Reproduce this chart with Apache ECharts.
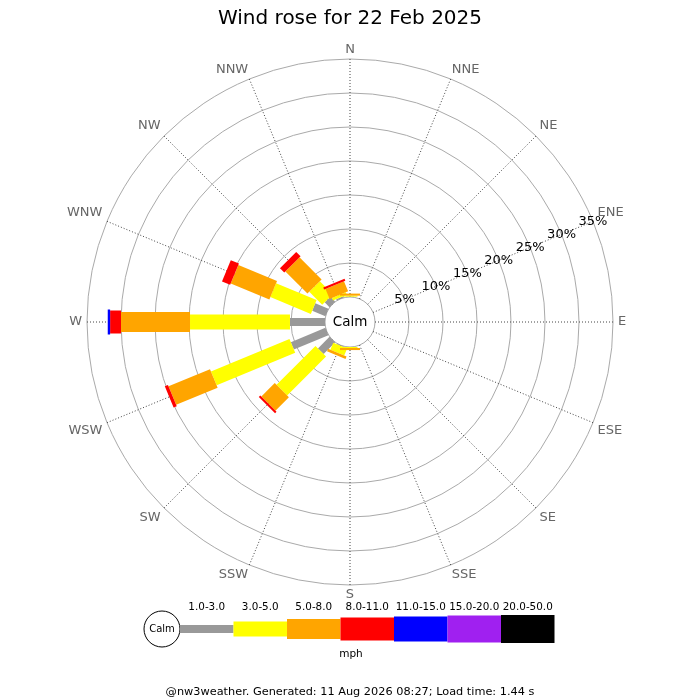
<!DOCTYPE html>
<html>
<head>
<meta charset="utf-8">
<script src="https://cdn.jsdelivr.net/npm/echarts@6/dist/echarts.min.js"></script>
<style>
html,body{margin:0;padding:0;background:#fff;}
#chart{width:700px;height:700px;}
</style>
</head>
<body>
<div id="chart"></div>
<script>
// ---- data ----
const directions = ['N','NNE','NE','ENE','E','ESE','SE','SSE','S','SSW','SW','WSW','W','WNW','NW','NNW'];
const speedClasses = ['1.0-3.0','3.0-5.0','5.0-8.0','8.0-11.0','11.0-15.0','15.0-20.0','20.0-50.0'];
const radiusTicks = [0,5,10,15,20,25,30,35];
// percentage of time per direction for each speed class
const pct_1_3   = [0.05,0,0,0,0,0,0,0,0,   0.1, 2.4, 5.5, 5.15, 2.1, 1.0, 0.2];
const pct_3_5   = [0.15,0,0,0,0,0,0,0,0.15,1.1, 8.1, 12.5,14.7, 6.45,2.7, 0.4];
const pct_5_8   = [0.3, 0,0,0,0,0,0,0,0.3, 0.4, 2.8, 6.6, 10.15,6.15,4.6, 1.6];
const pct_8_11  = [0,   0,0,0,0,0,0,0,0,   0,   0.3, 0.5, 1.6,  1.3, 0.9, 0.3];
const pct_11_15 = [0,   0,0,0,0,0,0,0,0,   0,   0,   0,   0.35, 0,   0,   0];
const pct_15_20 = [0,0,0,0,0,0,0,0,0,0,0,0,0,0,0,0];
const pct_20_50 = [0,0,0,0,0,0,0,0,0,0,0,0,0,0,0,0];
const classValues = [pct_1_3,pct_3_5,pct_5_8,pct_8_11,pct_11_15,pct_15_20,pct_20_50];

// ---- styles ----
const colors = ['#999999','#ffff00','#ffa500','#ff0000','#0000ff','#a020f0','#000000'];
const barWidths = [8,15,20,23,25,27,28];
const FONT = 'DejaVu Sans';
// labels near the vertical are centred on their spoke
const centredDirs = ['N','NNE','NNW','S','SSE','SSW'];

// build stacked segments: [dirIndex, start, end, classIndex]
const segs = [];
directions.forEach((d,i)=>{
  let acc = 0;
  classValues.forEach((arr,k)=>{
    const v = arr[i];
    if (v > 0) { segs.push([i, acc, acc+v, k]); acc += v; }
  });
});

const chart = echarts.init(document.getElementById('chart'), null, {renderer:'canvas'});
const step = 360/directions.length;
const rMax = radiusTicks[radiusTicks.length-1];
const dirName = (v)=>{const i=Math.round(v/step); return i<directions.length? directions[i] : '';};

// legend graphics
const legX0 = 180, legW = 53.5, legY = 629;
const graphics = [];
graphics.push({type:'circle', shape:{cx:162, cy:legY, r:18}, style:{fill:'#fff', stroke:'#000', lineWidth:1}, z:10});
graphics.push({type:'text', x:162, y:legY, style:{text:'Calm', font:'10px "'+FONT+'"', fill:'#000', align:'center', verticalAlign:'middle'}, z:11});
speedClasses.forEach((s,k)=>{
  const x = legX0 + k*legW;
  graphics.push({type:'rect', shape:{x:x, y:legY-barWidths[k]/2, width:legW, height:barWidths[k]}, style:{fill:colors[k]}, z:10});
  graphics.push({type:'text', x:x+legW/2, y:607, style:{text:s, font:'10.4px "'+FONT+'"', fill:'#000', align:'center', verticalAlign:'middle'}, z:11});
});
graphics.push({type:'text', x:351, y:654, style:{text:'mph', font:'10.5px "'+FONT+'"', fill:'#000', align:'center', verticalAlign:'middle'}, z:11});
graphics.push({type:'text', x:350, y:692, style:{text:'@nw3weather. Generated: 11 Aug 2026 08:27; Load time: 1.44 s', font:'11.3px "'+FONT+'"', fill:'#000', align:'center', verticalAlign:'middle'}, z:11});
graphics.push({type:'text', x:350, y:322, style:{text:'Calm', font:'13.5px "'+FONT+'"', fill:'#000', align:'center', verticalAlign:'middle'}, z:11});

const option = {
  backgroundColor:'#fff',
  animation:false,
  title:{text:'Wind rose for 22 Feb 2025', left:'center', top:4,
    textStyle:{fontFamily:FONT, fontSize:20, fontWeight:'normal', color:'#000'}},
  polar:[
    {center:[350,322], radius:[25,263]},
    {center:[350,322], radius:[25,263]},
    {center:[350,322], radius:[25,263]}
  ],
  angleAxis:[
    {polarIndex:0, type:'value', min:0, max:360, interval:step, startAngle:90, clockwise:true,
      axisLine:{show:false}, axisTick:{show:false},
      axisLabel:{show:true, margin:5, color:'#666', fontFamily:FONT, fontSize:13,
        formatter:(v)=>{const n=dirName(v); return centredDirs.indexOf(n)>=0 ? '' : n;}},
      splitLine:{show:true, lineStyle:{color:'#444', width:1, type:[1,2]}}},
    {polarIndex:1, type:'value', min:0, max:360, startAngle:90-3*step, clockwise:true, show:false},
    {polarIndex:2, type:'value', min:0, max:360, interval:step, startAngle:90, clockwise:true,
      axisLine:{show:false}, axisTick:{show:false}, splitLine:{show:false},
      axisLabel:{show:true, margin:3, align:'center', verticalAlign:'middle', color:'#666', fontFamily:FONT, fontSize:13,
        formatter:(v)=>{const n=dirName(v); return centredDirs.indexOf(n)>=0 ? n : '';}}}
  ],
  radiusAxis:[
    {polarIndex:0, type:'value', min:0, max:rMax, interval:5,
      axisLine:{show:false}, axisTick:{show:false}, axisLabel:{show:false},
      splitLine:{show:true, lineStyle:{color:'#aaaaaa', width:1}}},
    {polarIndex:1, type:'value', min:0, max:rMax, interval:5,
      axisLine:{show:false}, axisTick:{show:false}, splitLine:{show:false},
      axisLabel:{show:true, margin:0, align:'center', verticalAlign:'middle', color:'#000', fontFamily:FONT, fontSize:13,
        showMinLabel:false, formatter:(v)=> radiusTicks.indexOf(v)>0 ? v+'%' : ''}, z:20},
    {polarIndex:2, type:'value', min:0, max:rMax, interval:5, show:false}
  ],
  series:[{
    type:'custom',
    coordinateSystem:'polar',
    polarIndex:0,
    data:segs,
    encode:{radius:1, angle:0},
    renderItem:(params, api)=>{
      const a = api.value(0)*step;
      const r0 = api.value(1), r1 = api.value(2), k = api.value(3);
      const p0 = api.coord([r0, a]);
      const p1 = api.coord([r1, a]);
      const c0 = api.coord([0, a]), c1 = api.coord([rMax, a]);
      let ux = c1[0]-c0[0], uy = c1[1]-c0[1];
      const len = Math.sqrt(ux*ux+uy*uy); ux/=len; uy/=len;
      const nx = -uy, ny = ux, hw = barWidths[k]/2;
      return {
        type:'polygon',
        shape:{points:[
          [p0[0]+nx*hw, p0[1]+ny*hw],
          [p1[0]+nx*hw, p1[1]+ny*hw],
          [p1[0]-nx*hw, p1[1]-ny*hw],
          [p0[0]-nx*hw, p0[1]-ny*hw]
        ]},
        style:{fill:colors[k]},
        z2: k
      };
    },
    z:5
  }],
  graphic:graphics
};
chart.setOption(option);
</script>
</body>
</html>
